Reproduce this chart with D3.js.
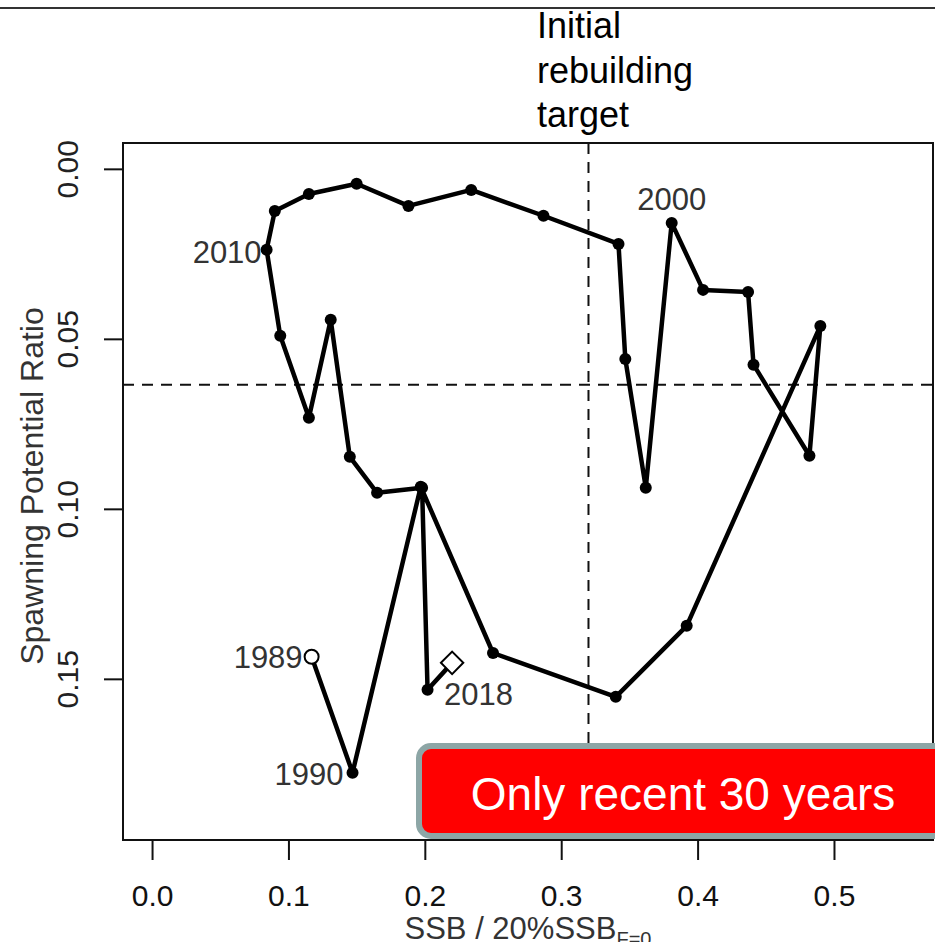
<!DOCTYPE html>
<html>
<head>
<meta charset="utf-8">
<script src="https://cdn.jsdelivr.net/npm/d3@7"></script>
<style>
  body { margin: 0; background: #fff; }
  svg { display: block; }
</style>
</head>
<body>
<script>
// values, 1989 .. 2018
const years = [1989, 1990, 1991, 1992, 1993, 1994, 1995, 1996, 1997, 1998,
               1999, 2000, 2001, 2002, 2003, 2004, 2005, 2006, 2007, 2008,
               2009, 2010, 2011, 2012, 2013, 2014, 2015, 2016, 2017, 2018];
const ssbRatio = [0.117, 0.147, 0.197, 0.250, 0.340, 0.392, 0.490, 0.482, 0.441, 0.437,
                  0.404, 0.381, 0.362, 0.347, 0.342, 0.287, 0.234, 0.188, 0.150, 0.115,
                  0.090, 0.084, 0.094, 0.115, 0.131, 0.145, 0.165, 0.198, 0.202, 0.220];
const spr = [0.1435, 0.1776, 0.0935, 0.1424, 0.1553, 0.1344, 0.0462, 0.0844, 0.0576, 0.0362,
             0.0356, 0.0159, 0.0938, 0.0559, 0.0221, 0.0138, 0.0062, 0.0109, 0.0044, 0.0074,
             0.0124, 0.0238, 0.0491, 0.0732, 0.0444, 0.0847, 0.0953, 0.0938, 0.1532, 0.1453];
const xTicks = [0, 0.1, 0.2, 0.3, 0.4, 0.5];
const yTicks = [0, 0.05, 0.10, 0.15];
const targetSSB = 0.32;
const targetSPR = 0.0635;
const labelYears = [1989, 1990, 2000, 2010, 2018];

const data = years.map((y, i) => ({year: y, x: ssbRatio[i], y: spr[i]}));

const W = 935, H = 942;
const plotL = 123, plotR = 933, plotT = 143, plotB = 840;
const font = "'Liberation Sans', Arial, sans-serif";

const svg = d3.select("body").append("svg")
  .attr("width", W)
  .attr("height", H)
  .style("font-family", font);

const x = d3.scaleLinear().domain([-0.0213, 0.5726]).range([plotL, plotR]);
const y = d3.scaleLinear().domain([-0.0076, 0.1974]).range([plotT, plotB]);

// slide line at the top
svg.append("line")
  .attr("x1", 0).attr("x2", W)
  .attr("y1", 8).attr("y2", 8)
  .attr("stroke", "#333").attr("stroke-width", 2);

// reference lines
svg.append("line")
  .attr("x1", x(targetSSB)).attr("x2", x(targetSSB))
  .attr("y1", plotT).attr("y2", plotB)
  .attr("stroke", "#111").attr("stroke-width", 2)
  .attr("stroke-dasharray", "11,8");
svg.append("line")
  .attr("x1", plotL).attr("x2", plotR)
  .attr("y1", y(targetSPR)).attr("y2", y(targetSPR))
  .attr("stroke", "#111").attr("stroke-width", 2)
  .attr("stroke-dasharray", "11,8");

// trajectory
svg.append("path")
  .datum(data)
  .attr("fill", "none")
  .attr("stroke", "#000")
  .attr("stroke-width", 4.5)
  .attr("stroke-linejoin", "round")
  .attr("d", d3.line().x(d => x(d.x)).y(d => y(d.y)));

svg.selectAll("circle.pt")
  .data(data.slice(1, -1))
  .enter().append("circle")
    .attr("class", "pt")
    .attr("cx", d => x(d.x))
    .attr("cy", d => y(d.y))
    .attr("r", 6)
    .attr("fill", "#000");

// first year: open circle, last year: open diamond
const first = data[0], last = data[data.length - 1];
svg.append("circle")
  .attr("cx", x(first.x)).attr("cy", y(first.y))
  .attr("r", 7)
  .attr("fill", "#fff").attr("stroke", "#000").attr("stroke-width", 2);
svg.append("path")
  .attr("d", d3.symbol().type(d3.symbolSquare).size(250)())
  .attr("transform", `translate(${x(last.x)},${y(last.y)}) rotate(45)`)
  .attr("fill", "#fff").attr("stroke", "#000").attr("stroke-width", 2);

// year labels
const labelPos = {
  1989: {dx: -9, dy: 11, anchor: "end"},
  1990: {dx: -9, dy: 12, anchor: "end"},
  2000: {dx: 0, dy: -13, anchor: "middle"},
  2010: {dx: -5, dy: 13, anchor: "end"},
  2018: {dx: -8, dy: 42, anchor: "start"}
};
svg.selectAll("text.yr")
  .data(data.filter(d => labelYears.includes(d.year)))
  .enter().append("text")
    .attr("class", "yr")
    .attr("x", d => x(d.x) + labelPos[d.year].dx)
    .attr("y", d => y(d.y) + labelPos[d.year].dy)
    .attr("text-anchor", d => labelPos[d.year].anchor)
    .attr("font-size", "31px")
    .attr("fill", "#333")
    .text(d => d.year);

// axes
const xAxis = svg.append("g")
  .attr("transform", `translate(0,${plotB})`)
  .call(d3.axisBottom(x).tickValues(xTicks).tickSize(20).tickPadding(25)
    .tickFormat(d3.format(".1f")));
xAxis.select(".domain").remove();
xAxis.selectAll("line").attr("stroke", "#111").attr("stroke-width", 2);
xAxis.selectAll("text").attr("font-size", "30px").attr("font-family", font).attr("fill", "#111");

const yAxis = svg.append("g")
  .attr("transform", `translate(${plotL},0)`)
  .call(d3.axisLeft(y).tickValues(yTicks).tickSize(19)
    .tickFormat(d3.format(".2f")));
yAxis.select(".domain").remove();
yAxis.selectAll("line").attr("stroke", "#111").attr("stroke-width", 2);
yAxis.selectAll("text")
  .attr("x", null).attr("dy", null)
  .attr("text-anchor", "middle")
  .attr("transform", "translate(-45,0) rotate(-90)")
  .attr("font-size", "30px").attr("font-family", font).attr("fill", "#222");

// plot box
svg.append("rect")
  .attr("x", plotL).attr("y", plotT)
  .attr("width", plotR - plotL).attr("height", plotB - plotT)
  .attr("fill", "none").attr("stroke", "#111").attr("stroke-width", 2);

// axis titles
const xTitle = svg.append("text")
  .attr("x", (plotL + plotR) / 2)
  .attr("y", 939)
  .attr("text-anchor", "middle")
  .attr("font-size", "31px")
  .attr("fill", "#333");
xTitle.append("tspan").text("SSB / 20%SSB");
xTitle.append("tspan").attr("font-size", "20px").attr("dy", 7).text("F=0");

svg.append("text")
  .attr("transform", "translate(43,486) rotate(-90)")
  .attr("text-anchor", "middle")
  .attr("font-size", "32px")
  .attr("fill", "#333")
  .text("Spawning Potential Ratio");

// annotation above the vertical target line
const note = svg.append("text")
  .attr("x", 537)
  .attr("font-size", "36px")
  .attr("fill", "#000");
["Initial", "rebuilding", "target"].forEach((t, i) => {
  note.append("tspan").attr("x", 537).attr("y", 38 + i * 44.5).text(t);
});

// red banner
svg.append("rect")
  .attr("x", 419).attr("y", 746)
  .attr("width", 540).attr("height", 90)
  .attr("rx", 12)
  .attr("fill", "#ff0000")
  .attr("stroke", "#8da6a6").attr("stroke-width", 6);
svg.append("text")
  .attr("x", 683).attr("y", 810)
  .attr("text-anchor", "middle")
  .attr("font-size", "46px")
  .attr("fill", "#fff")
  .text("Only recent 30 years");
</script>
</body>
</html>
